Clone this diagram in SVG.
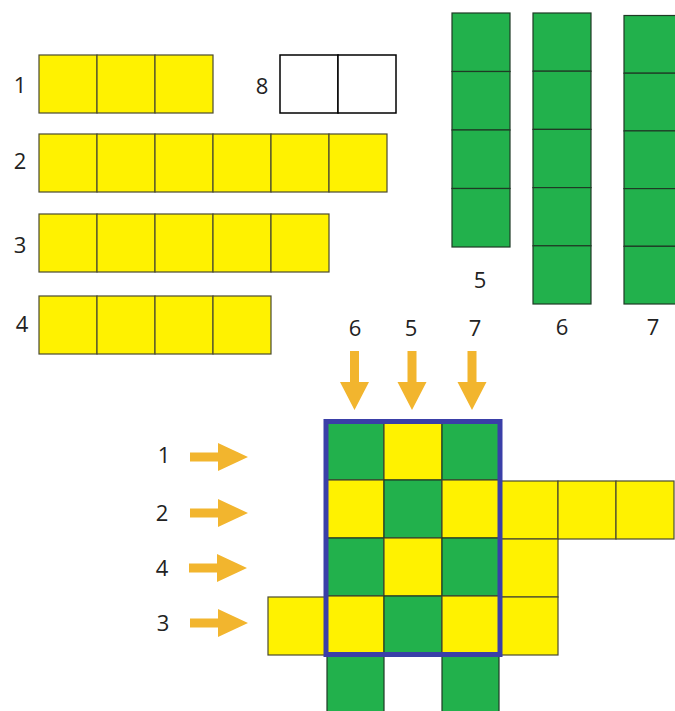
<svg xmlns="http://www.w3.org/2000/svg" width="675" height="711" viewBox="0 0 675 711">
<style>
.y{fill:#FFF200;stroke:#4a4a30;stroke-width:1.2}
.g{fill:#22B14C;stroke:#1f3a25;stroke-width:1.2}
.w{fill:#fff;stroke:#000;stroke-width:1.5}
.t{font-family:"Open Sans","Liberation Sans",sans-serif;font-size:22px;fill:#222;text-anchor:middle}
.ar{fill:#F2B52E}
</style>
<rect width="675" height="711" fill="#fff"/>
<g id="bar1">
<rect class="y" x="39" y="55" width="58" height="58"/><rect class="y" x="97" y="55" width="58" height="58"/><rect class="y" x="155" y="55" width="58" height="58"/>
<text class="t" x="20" y="93">1</text>
</g>
<g id="bar2">
<rect class="y" x="39" y="134" width="58" height="58"/><rect class="y" x="97" y="134" width="58" height="58"/><rect class="y" x="155" y="134" width="58" height="58"/><rect class="y" x="213" y="134" width="58" height="58"/><rect class="y" x="271" y="134" width="58" height="58"/><rect class="y" x="329" y="134" width="58" height="58"/>
<text class="t" x="20" y="169">2</text>
</g>
<g id="bar3">
<rect class="y" x="39" y="214" width="58" height="58"/><rect class="y" x="97" y="214" width="58" height="58"/><rect class="y" x="155" y="214" width="58" height="58"/><rect class="y" x="213" y="214" width="58" height="58"/><rect class="y" x="271" y="214" width="58" height="58"/>
<text class="t" x="20" y="253">3</text>
</g>
<g id="bar4">
<rect class="y" x="39" y="296" width="58" height="58"/><rect class="y" x="97" y="296" width="58" height="58"/><rect class="y" x="155" y="296" width="58" height="58"/><rect class="y" x="213" y="296" width="58" height="58"/>
<text class="t" x="22" y="332">4</text>
</g>
<g id="bar8">
<rect class="w" x="280" y="55" width="58" height="58"/><rect class="w" x="338" y="55" width="58" height="58"/>
<text class="t" x="262" y="94">8</text>
</g>
<g id="col5">
<rect class="g" x="452" y="13" width="58" height="58.5"/><rect class="g" x="452" y="71.5" width="58" height="58.5"/><rect class="g" x="452" y="130" width="58" height="58.5"/><rect class="g" x="452" y="188.5" width="58" height="58.5"/>
<text class="t" x="480" y="288">5</text>
</g>
<g id="col6">
<rect class="g" x="533" y="13" width="58" height="58.2"/><rect class="g" x="533" y="71.2" width="58" height="58.2"/><rect class="g" x="533" y="129.4" width="58" height="58.2"/><rect class="g" x="533" y="187.6" width="58" height="58.2"/><rect class="g" x="533" y="245.8" width="58" height="58.2"/>
<text class="t" x="562" y="335">6</text>
</g>
<g id="col7">
<rect class="g" x="624" y="15.5" width="60" height="57.7"/><rect class="g" x="624" y="73.2" width="60" height="57.7"/><rect class="g" x="624" y="130.9" width="60" height="57.7"/><rect class="g" x="624" y="188.6" width="60" height="57.7"/><rect class="g" x="624" y="246.3" width="60" height="57.7"/>
<text class="t" x="653" y="335">7</text>
</g>
<g id="grid">
<rect class="g" x="326" y="422" width="58" height="58"/><rect class="y" x="384" y="422" width="58" height="58"/><rect class="g" x="442" y="422" width="58" height="58"/>
<rect class="y" x="326" y="480" width="58" height="58"/><rect class="g" x="384" y="480" width="58" height="58"/><rect class="y" x="442" y="480" width="58" height="58"/>
<rect class="g" x="326" y="538" width="58" height="58"/><rect class="y" x="384" y="538" width="58" height="58"/><rect class="g" x="442" y="538" width="58" height="58"/>
<rect class="y" x="326" y="596" width="58" height="58"/><rect class="g" x="384" y="596" width="58" height="58"/><rect class="y" x="442" y="596" width="58" height="58"/>
</g>
<g id="extra-yellow">
<rect class="y" x="500" y="481" width="58" height="58"/><rect class="y" x="558" y="481" width="58" height="58"/><rect class="y" x="616" y="481" width="58" height="58"/>
<rect class="y" x="500" y="539" width="58" height="58"/><rect class="y" x="500" y="597" width="58" height="58"/>
<rect class="y" x="268" y="597" width="58" height="58"/>
</g>
<g id="extra-green">
<rect class="g" x="327" y="654" width="57" height="62"/><rect class="g" x="442" y="654" width="57" height="62"/>
</g>
<g id="frame">
<rect x="326" y="421.5" width="174" height="233" fill="none" stroke="#3A3FA8" stroke-width="5"/>
</g>
<g id="top-labels">
<text class="t" x="355" y="336">6</text><text class="t" x="411" y="336">5</text><text class="t" x="475" y="336">7</text>
</g>
<g id="row-labels">
<text class="t" x="164" y="463">1</text><text class="t" x="162" y="521">2</text><text class="t" x="162" y="576">4</text><text class="t" x="163" y="631">3</text>
</g>
<g id="connectors">
<path class="ar" d="M350 351h9v31h10l-14.5 28l-14.5-28h10z"/>
<path class="ar" d="M407.5 351h9v31h10l-14.5 28l-14.5-28h10z"/>
<path class="ar" d="M467.5 351h9v31h10l-14.5 28l-14.5-28h10z"/>
<path class="ar" d="M190 452.5h28v-9.5l30 14l-30 14v-9.5h-28z"/>
<path class="ar" d="M190 508.5h28v-9.5l30 14l-30 14v-9.5h-28z"/>
<path class="ar" d="M189 563.5h28v-9.5l30 14l-30 14v-9.5h-28z"/>
<path class="ar" d="M190 618.5h28v-9.5l30 14l-30 14v-9.5h-28z"/>
</g>
</svg>
